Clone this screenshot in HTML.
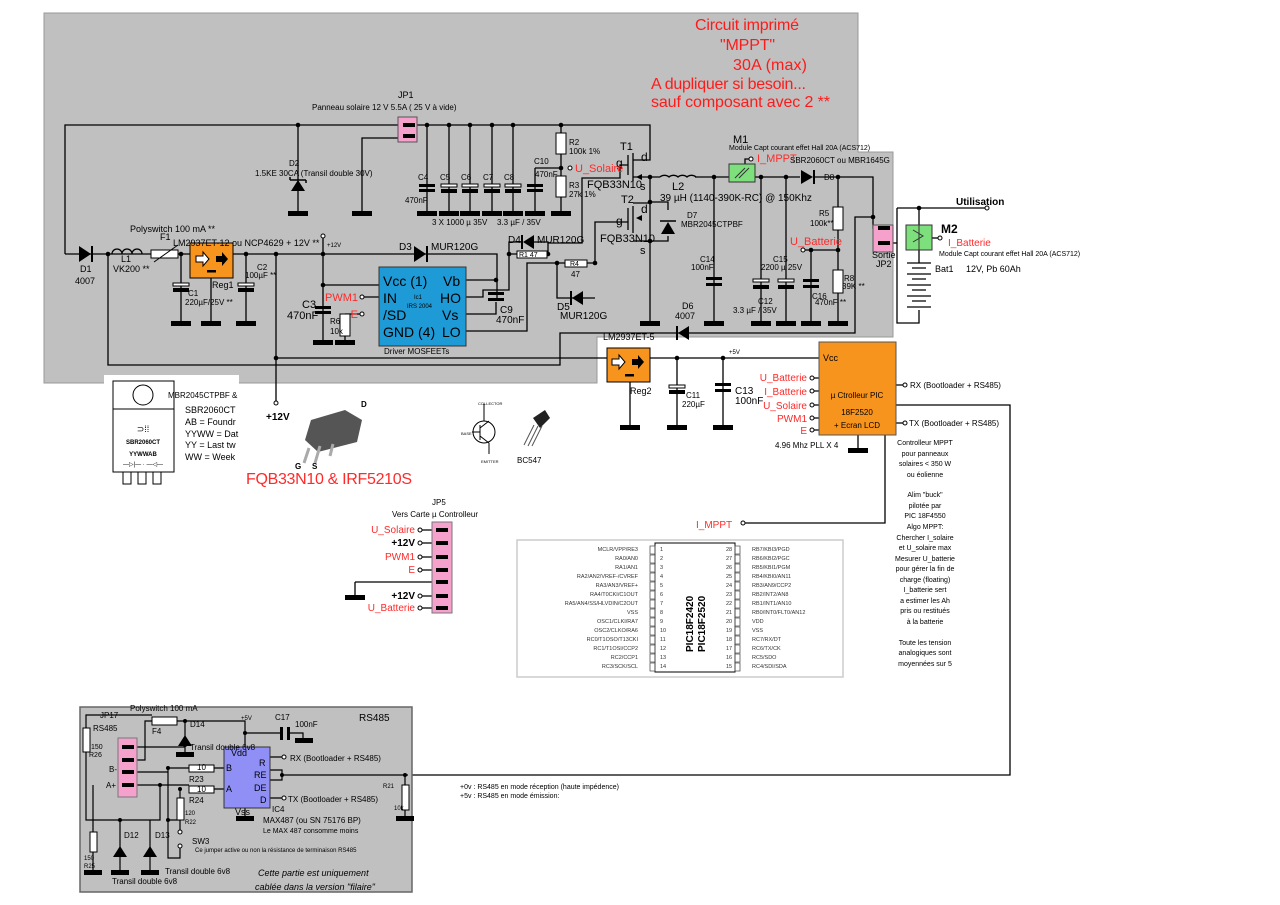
<!DOCTYPE html>
<html><head><meta charset="utf-8"><style>
html,body{margin:0;padding:0;background:#fff}
svg{display:block}
text{font-family:"Liberation Sans",sans-serif}
</style></head><body>
<svg width="1280" height="905" viewBox="0 0 1280 905" xmlns="http://www.w3.org/2000/svg">
<path d="M44,13 H858 V152 H893 V337 H597 V383 H44 Z" fill="#c0c0c0" stroke="#999" stroke-width="1"/>
<g fill="#ff1a1a" font-size="16">
<text x="695" y="30" textLength="104">Circuit imprimé</text>
<text x="720" y="50" textLength="55">"MPPT"</text>
<text x="733" y="70" textLength="74">30A (max)</text>
<text x="651" y="89" textLength="155">A dupliquer si besoin...</text>
<text x="651" y="107" textLength="179">sauf composant avec 2 **</text>
</g>
<g stroke="#000" stroke-width="1.3" fill="none">
<path d="M65,254 V125 H650 V160 H633"/>
<path d="M298,125 V213 M407,133 H417 M405,138 H362 V213"/>
<path d="M427,125 V213 M449,125 V213 M470,125 V213 M492,125 V213 M513,125 V213 M535,168 V213 M535,168 H561 M561,125 V213"/>
<path d="M65,254 H190 M233,254 H497 V298 M466,280 H497 M323,236 V342 M323,285 H379 M276,254 V403 M108,254 V365 H560 V333 H855 V217 H873"/>
<path d="M181,254 V323 M246,254 V323 M211,278 V323"/>
<path d="M345,314 H362 M345,314 V342 M466,297 H483 V290 H509 V254 H517 M547,254 H548 V243 H582 V178 H620 V165 H628 M466,314 H496 V302 M466,331 H527 V263 H565 M587,263 H595 V222 H628 M557,263 V298 H573 M583,298 H595 M509,254 V242 H522 M534,242 H548 V254"/>
<path d="M362,297 H379 M400,331 H390 V342"/>
<path d="M628,155 V175 M633,153 V181 M633,177 H650 V176 M650,177 V323 M633,203 H650 M628,208 V230 M633,206 V233 M633,241 H650 M650,202 H668 V210 M668,236 V241 H650"/>
<path d="M650,177 H660 M695,177 H729 M755,177 H800 M815,177 H873 V228 H893"/>
<path d="M714,177 V323 M761,177 V323 M786,177 V323 M838,177 V207 M838,230 V270 M838,293 V323 M803,250 H838 M811,250 V323"/>
<path d="M751,159 H745 V165"/>
<path d="M893,243 H897"/>
<path d="M897,208 H987 M897,208 V323 H919 V310 M919,208 V263"/>
<path d="M932,238 H940"/>
<path d="M276,358 H607 M650,358 H819 M677,358 V427 M723,358 V427 M630,382 V427 M858,435 V450 M896,385 H905 M896,423 H905 M896,405 H1010 V775 H408 M885,435 V523 H743"/>
<path d="M812,378 H819 M812,391 H819 M812,405 H819 M812,418 H819 M812,430 H819"/>
<path d="M420,530 H448 M420,543 H448 M420,557 H448 M420,570 H448 M355,582 H448 V582 M355,582 V597 M420,596 H448 M420,608 H448"/>
</g>
<g fill="#000">
<rect x="288" y="211" width="20" height="5"/><rect x="352" y="211" width="20" height="5"/>
<rect x="417" y="211" width="20" height="5"/><rect x="439" y="211" width="20" height="5"/><rect x="460" y="211" width="20" height="5"/><rect x="482" y="211" width="20" height="5"/><rect x="503" y="211" width="20" height="5"/><rect x="525" y="211" width="20" height="5"/><rect x="551" y="211" width="20" height="5"/>
<rect x="171" y="321" width="20" height="5"/><rect x="201" y="321" width="20" height="5"/><rect x="236" y="321" width="20" height="5"/>
<rect x="313" y="340" width="20" height="5"/><rect x="335" y="340" width="20" height="5"/><rect x="380" y="340" width="20" height="5"/>
<rect x="640" y="321" width="20" height="5"/><rect x="704" y="321" width="20" height="5"/><rect x="751" y="321" width="20" height="5"/><rect x="776" y="321" width="20" height="5"/><rect x="801" y="321" width="20" height="5"/><rect x="828" y="321" width="20" height="5"/>
<rect x="620" y="425" width="20" height="5"/><rect x="667" y="425" width="20" height="5"/><rect x="713" y="425" width="20" height="5"/><rect x="848" y="448" width="20" height="5"/>
<rect x="345" y="595" width="20" height="5"/>
<g>
<circle cx="298" cy="125" r="2.3"/><circle cx="427" cy="125" r="2.3"/><circle cx="449" cy="125" r="2.3"/><circle cx="470" cy="125" r="2.3"/><circle cx="492" cy="125" r="2.3"/><circle cx="513" cy="125" r="2.3"/><circle cx="561" cy="125" r="2.3"/><circle cx="561" cy="168" r="2.3"/>
<circle cx="108" cy="254" r="2.3"/><circle cx="181" cy="254" r="2.3"/><circle cx="246" cy="254" r="2.3"/><circle cx="276" cy="254" r="2.3"/><circle cx="323" cy="254" r="2.3"/><circle cx="323" cy="285" r="2.3"/><circle cx="276" cy="358" r="2.3"/><circle cx="496" cy="280" r="2.3"/><circle cx="509" cy="254" r="2.3"/><circle cx="548" cy="254" r="2.3"/><circle cx="557" cy="263" r="2.3"/><circle cx="595" cy="263" r="2.3"/>
<circle cx="650" cy="177" r="2.3"/><circle cx="650" cy="202" r="2.3"/><circle cx="650" cy="241" r="2.3"/><circle cx="714" cy="177" r="2.3"/><circle cx="761" cy="177" r="2.3"/><circle cx="786" cy="177" r="2.3"/><circle cx="838" cy="177" r="2.3"/><circle cx="838" cy="250" r="2.3"/><circle cx="811" cy="250" r="2.3"/><circle cx="873" cy="217" r="2.3"/><circle cx="919" cy="208" r="2.3"/>
<circle cx="677" cy="358" r="2.3"/><circle cx="723" cy="358" r="2.3"/>
</g>
</g>
<rect x="398" y="117" width="19" height="25" fill="#f6a0cc" stroke="#555"/>
<rect x="403" y="123" width="12" height="4"/><rect x="403" y="134" width="12" height="4"/>
<path d="M291,191 L305,191 L298,180 Z" fill="#000"/><path d="M290,180 H306 M306,180 v3 M290,180 v-3" stroke="#000" stroke-width="1.5" fill="none"/>
<g fill="#000">
<rect x="419" y="184" width="16" height="3"/><rect x="419" y="189" width="16" height="3"/>
<rect x="441" y="184" width="16" height="3" fill="#fff" stroke="#000"/><rect x="441" y="189" width="16" height="4"/>
<rect x="462" y="184" width="16" height="3" fill="#fff" stroke="#000"/><rect x="462" y="189" width="16" height="4"/>
<rect x="484" y="184" width="16" height="3" fill="#fff" stroke="#000"/><rect x="484" y="189" width="16" height="4"/>
<rect x="505" y="184" width="16" height="3" fill="#fff" stroke="#000"/><rect x="505" y="189" width="16" height="4"/>
<rect x="527" y="184" width="16" height="3"/><rect x="527" y="189" width="16" height="3"/>
<rect x="173" y="283" width="16" height="3" fill="#fff" stroke="#000"/><rect x="173" y="288" width="16" height="4"/>
<rect x="238" y="283" width="16" height="3" fill="#fff" stroke="#000"/><rect x="238" y="288" width="16" height="4"/>
<rect x="315" y="306" width="16" height="3"/><rect x="315" y="311" width="16" height="3"/>
<rect x="488" y="292" width="16" height="3"/><rect x="488" y="298" width="16" height="3"/>
<rect x="706" y="277" width="16" height="3"/><rect x="706" y="283" width="16" height="3"/>
<rect x="753" y="279" width="16" height="3" fill="#fff" stroke="#000"/><rect x="753" y="285" width="16" height="4"/>
<rect x="778" y="279" width="16" height="3" fill="#fff" stroke="#000"/><rect x="778" y="285" width="16" height="4"/>
<rect x="803" y="279" width="16" height="3"/><rect x="803" y="285" width="16" height="3"/>
<rect x="669" y="385" width="16" height="3" fill="#fff" stroke="#000"/><rect x="669" y="390" width="16" height="4"/>
<rect x="715" y="383" width="16" height="3"/><rect x="715" y="389" width="16" height="3"/>
</g>
<g fill="#fff" stroke="#000">
<rect x="556" y="133" width="10" height="21"/><rect x="556" y="176" width="10" height="21"/>
<rect x="151" y="250" width="27" height="8"/><rect x="340" y="314" width="10" height="22"/>
<rect x="517" y="251" width="30" height="7"/><rect x="565" y="260" width="22" height="7"/>
<rect x="833" y="207" width="10" height="23"/><rect x="833" y="270" width="10" height="23"/>
</g>
<path d="M154,262 L178,245" stroke="#000"/>
<path d="M112,254 a5,5 0 0 1 10,0 a5,5 0 0 1 10,0 a5,5 0 0 1 10,0" stroke="#000" stroke-width="1.3" fill="none"/>
<path d="M660,177 a6,5 0 0 1 9,0 a6,5 0 0 1 9,0 a6,5 0 0 1 9,0 a6,5 0 0 1 9,0" stroke="#000" stroke-width="1.3" fill="none"/>
<g fill="#000">
<path d="M79,246 L79,262 L91,254 Z"/><rect x="91" y="246" width="2" height="16"/>
<path d="M414,246 L414,262 L426,254 Z"/><rect x="426" y="246" width="2" height="16"/>
<path d="M534,235 L534,249 L523,242 Z"/><rect x="521" y="235" width="2" height="14"/>
<path d="M583,291 L583,305 L572,298 Z"/><rect x="570" y="291" width="2" height="14"/>
<path d="M689,326 L689,340 L678,333 Z"/><rect x="676" y="326" width="2" height="14"/>
<path d="M801,170 L801,184 L813,177 Z"/><rect x="813" y="170" width="2" height="14"/>
<path d="M661,234 L675,234 L668,222 Z"/><path d="M660,221 H676" stroke="#000" stroke-width="1.5"/>
</g>
<path d="M636,177 l6,-3 v6 Z M636,218 l6,-3 v6 Z"/>
<rect x="190" y="243" width="43" height="35" fill="#f7941d" stroke="#000"/>
<path d="M196,256 h7 v-4 l6,7 -6,7 v-4 h-7 Z" fill="#fff" stroke="#000"/><path d="M216,256 h6 v-4 l6,7 -6,7 v-4 h-6 Z" fill="#000"/>
<rect x="207" y="270" width="9" height="2.5" fill="#000"/>
<rect x="379" y="267" width="87" height="79" fill="#1e9bd7" stroke="#333"/>
<g font-size="14" fill="#000"><text x="383" y="286">Vcc (1)</text><text x="443" y="286">Vb</text><text x="383" y="303">IN</text><text x="440" y="303">HO</text><text x="383" y="320">/SD</text><text x="442" y="320">Vs</text><text x="383" y="337">GND (4)</text><text x="442" y="337">LO</text></g>
<text x="414" y="299" font-size="6">Ic1</text><text x="407" y="308" font-size="6">IRS 2004</text>
<rect x="729" y="164" width="26" height="18" fill="#7de07d" stroke="#333"/>
<path d="M735,178 l10,-10 M739,178 l10,-10" stroke="#333"/>
<rect x="873" y="225" width="20" height="27" fill="#f6a0cc" stroke="#555"/><rect x="878" y="226" width="12" height="4"/><rect x="878" y="241" width="12" height="4"/>
<rect x="906" y="225" width="26" height="25" fill="#7de07d" stroke="#333"/>
<path d="M913,230 l10,6 l-10,6 M919,225 V250" stroke="#333" fill="none"/>
<g stroke="#000" stroke-width="1.2"><path d="M907,263 h24 M912,268 h14 M907,274 h24 M912,279 h14 M907,285 h24 M912,290 h14 M907,296 h24 M912,301 h14 M907,307 h24"/></g>
<circle cx="987" cy="208" r="2" fill="#fff" stroke="#000"/><circle cx="940" cy="238" r="2" fill="#fff" stroke="#000"/>
<rect x="607" y="348" width="43" height="34" fill="#f7941d" stroke="#000"/>
<path d="M612,359 h7 v-4 l6,7 -6,7 v-4 h-7 Z" fill="#fff" stroke="#000"/><path d="M632,359 h6 v-4 l6,7 -6,7 v-4 h-6 Z" fill="#000"/><rect x="625" y="374" width="9" height="2.5"/>
<rect x="819" y="342" width="77" height="93" fill="#f7941d" stroke="#555"/>
<g fill="#fff" stroke="#000">
<circle cx="570" cy="168" r="2"/><circle cx="323" cy="236" r="2"/><circle cx="362" cy="297" r="2"/><circle cx="362" cy="314" r="2"/><circle cx="751" cy="159" r="2"/><circle cx="803" cy="250" r="2"/><circle cx="276" cy="403" r="2"/>
<circle cx="812" cy="378" r="2"/><circle cx="812" cy="391" r="2"/><circle cx="812" cy="405" r="2"/><circle cx="812" cy="418" r="2"/><circle cx="812" cy="430" r="2"/><circle cx="905" cy="385" r="2"/><circle cx="905" cy="423" r="2"/><circle cx="743" cy="523" r="2"/>
<circle cx="420" cy="530" r="2"/><circle cx="420" cy="543" r="2"/><circle cx="420" cy="557" r="2"/><circle cx="420" cy="570" r="2"/><circle cx="420" cy="596" r="2"/><circle cx="420" cy="608" r="2"/>
</g>
<g font-size="8" fill="#000">
<text x="398" y="98" font-size="9">JP1</text><text x="312" y="110">Panneau solaire 12 V 5.5A  ( 25 V à vide)</text>
<text x="289" y="166">D2</text><text x="255" y="176">1.5KE 30CA  (Transil double 30V)</text>
<text x="418" y="180">C4</text><text x="440" y="180">C5</text><text x="461" y="180">C6</text><text x="483" y="180">C7</text><text x="504" y="180">C8</text><text x="405" y="203">470nF</text>
<text x="432" y="225">3 X 1000 µ 35V</text><text x="497" y="225">3.3 µF / 35V</text>
<text x="534" y="164">C10</text><text x="535" y="177">470nF</text>
<text x="569" y="145">R2</text><text x="569" y="154">100k 1%</text><text x="569" y="188">R3</text><text x="569" y="197">27k    1%</text>
<text x="620" y="150" font-size="11">T1</text><text x="641" y="161" font-size="12">d</text><text x="616" y="167" font-size="12">g</text><text x="640" y="190" font-size="11">s</text>
<text x="587" y="188" font-size="11">FQB33N10</text>
<text x="621" y="203" font-size="11">T2</text><text x="641" y="213" font-size="12">d</text><text x="616" y="225" font-size="12">g</text><text x="640" y="254" font-size="11">s</text>
<text x="600" y="242" font-size="11">FQB33N10</text>
<text x="672" y="190" font-size="11">L2</text><text x="660" y="201" font-size="10">39 µH (1140-390K-RC) @ 150Khz</text>
<text x="687" y="218">D7</text><text x="681" y="227">MBR2045CTPBF</text>
<text x="733" y="143" font-size="11">M1</text><text x="729" y="150" font-size="7">Module Capt   courant effet Hall 20A (ACS712)</text>
<text x="790" y="163">SBR2060CT ou MBR1645G</text><text x="824" y="180">D8</text>
<text x="700" y="262">C14</text><text x="691" y="270">100nF</text>
<text x="773" y="262">C15</text><text x="761" y="270">2200 µ   25V</text>
<text x="758" y="304">C12</text><text x="733" y="313">3.3 µF / 35V</text>
<text x="812" y="299">C16</text><text x="815" y="305">470nF **</text>
<text x="819" y="216">R5</text><text x="810" y="226">100k**</text><text x="844" y="281">R8</text><text x="842" y="289">39K **</text>
<text x="872" y="258" font-size="9">Sortie</text><text x="876" y="267" font-size="9">JP2</text>
<text x="682" y="309" font-size="9">D6</text><text x="675" y="319" font-size="9">4007</text>
<text x="603" y="340" font-size="9">LM2937ET-5</text>
<text x="130" y="232" font-size="9">Polyswitch 100 mA **</text><text x="160" y="240" font-size="9">F1</text>
<text x="173" y="246" font-size="9">LM2937ET-12  ou NCP4629  + 12V **</text>
<text x="80" y="272" font-size="9">D1</text><text x="75" y="284" font-size="9">4007</text>
<text x="121" y="262" font-size="9">L1</text><text x="113" y="272" font-size="9">VK200 **</text>
<text x="212" y="288" font-size="9">Reg1</text><text x="188" y="296">C1</text><text x="185" y="305">220µF/25V **</text>
<text x="257" y="270">C2</text><text x="245" y="278">100µF **</text><text x="327" y="247" font-size="6">+12V</text>
<text x="302" y="308" font-size="11">C3</text><text x="287" y="319" font-size="11">470nF</text><text x="330" y="324">R6</text><text x="330" y="334">10k</text>
<text x="399" y="250" font-size="10">D3</text><text x="431" y="250" font-size="10">MUR120G</text>
<text x="508" y="243" font-size="10">D4</text><text x="537" y="243" font-size="10">MUR120G</text>
<text x="519" y="257" font-size="7">R1  47</text><text x="570" y="266" font-size="7">R4</text><text x="571" y="277">47</text>
<text x="557" y="310" font-size="10">D5</text><text x="560" y="319" font-size="10">MUR120G</text>
<text x="500" y="313" font-size="10">C9</text><text x="496" y="323" font-size="10">470nF</text>
<text x="384" y="354">Driver MOSFEETs</text>
<text x="956" y="205" font-size="10" font-weight="bold">Utilisation</text>
<text x="941" y="233" font-size="12" font-weight="bold">M2</text><text x="939" y="256" font-size="7">Module Capt  courant effet Hall 20A (ACS712)</text>
<text x="935" y="272" font-size="9">Bat1</text><text x="966" y="272" font-size="9">12V, Pb 60Ah</text>
<text x="630" y="394" font-size="9">Reg2</text><text x="729" y="354" font-size="6">+5V</text>
<text x="686" y="398">C11</text><text x="682" y="407">220µF</text><text x="735" y="394" font-size="10">C13</text><text x="735" y="404" font-size="10">100nF</text>
<text x="823" y="361" font-size="9">Vcc</text>
<text x="857" y="398" font-size="8" text-anchor="middle">µ Ctrolleur PIC</text><text x="857" y="415" text-anchor="middle">18F2520</text><text x="857" y="428" text-anchor="middle">+ Ecran LCD</text>
<text x="775" y="448">4.96 Mhz PLL X 4</text>
<text x="910" y="388">RX (Bootloader + RS485)</text><text x="909" y="426">TX (Bootloader + RS485)</text>
</g>
<g font-size="9" fill="#ff2a2a">
<text x="575" y="172" font-size="11">U_Solaire</text><text x="757" y="162" font-size="11">I_MPPT</text><text x="790" y="245" font-size="11">U_Batterie</text><text x="948" y="246" font-size="10">I_Batterie</text>
<text x="358" y="301" font-size="11" text-anchor="end">PWM1</text><text x="358" y="318" font-size="11" text-anchor="end">E</text>
<g font-size="10" text-anchor="end"><text x="807" y="381">U_Batterie</text><text x="807" y="395">I_Batterie</text><text x="807" y="409">U_Solaire</text><text x="807" y="422">PWM1</text><text x="807" y="434">E</text></g>
<text x="696" y="528" font-size="10">I_MPPT</text>
</g>
<g font-size="7" fill="#000" text-anchor="middle">
<text x="925" y="445">Controlleur MPPT</text><text x="925" y="456">pour panneaux</text><text x="925" y="466">solaires &lt; 350 W</text><text x="925" y="477">ou éolienne</text>
<text x="925" y="497">Alim "buck"</text><text x="925" y="508">pilotée par</text><text x="925" y="518">PIC 18F4550</text><text x="925" y="529">Algo MPPT:</text><text x="925" y="540">Chercher I_solaire</text><text x="925" y="550">et U_solaire max</text><text x="925" y="561">Mesurer U_batterie</text><text x="925" y="571">pour gérer la fin de</text><text x="925" y="582">charge (floating)</text><text x="925" y="592">I_batterie sert</text><text x="925" y="603">a estimer les Ah</text><text x="925" y="613">pris ou restitués</text><text x="925" y="624">à la batterie</text>
<text x="925" y="645">Toute les tension</text><text x="925" y="655">analogiques sont</text><text x="925" y="666">moyennées sur 5</text>
</g>
<rect x="104" y="375" width="135" height="110" fill="#fff"/>
<rect x="113" y="381" width="61" height="91" fill="#fff" stroke="#000"/><line x1="113" y1="409" x2="174" y2="409" stroke="#000"/>
<circle cx="143" cy="395" r="10" fill="none" stroke="#000"/>
<rect x="123" y="472" width="8" height="12" fill="none" stroke="#000"/><rect x="138" y="472" width="8" height="12" fill="none" stroke="#000"/><rect x="153" y="472" width="8" height="12" fill="none" stroke="#000"/>
<g font-size="6" font-weight="bold" text-anchor="middle"><text x="143" y="444">SBR2060CT</text><text x="143" y="456">YYWWAB</text><text x="143" y="432" font-size="9" font-weight="normal">⊃⁞⁞</text><text x="143" y="466" font-weight="normal">—▷|— · —◁—</text></g>
<g font-size="9"><text x="168" y="398" font-size="8">MBR2045CTPBF &amp;</text><text x="185" y="413">SBR2060CT</text><text x="185" y="425">AB = Foundr</text><text x="185" y="437">YYWW = Dat</text><text x="185" y="448">YY = Last tw</text><text x="185" y="460">WW = Week</text></g>
<text x="266" y="420" font-size="10" font-weight="bold">+12V</text>
<path d="M311,420 L345,410 L362,420 L357,442 L318,452 L305,440 Z" fill="#555"/>
<path d="M309,448 l-5,15 M320,446 l-5,17 M333,444 l-3,12" stroke="#aaa" stroke-width="3"/>
<text x="361" y="407" font-size="8" font-weight="bold">D</text><text x="295" y="469" font-size="8" font-weight="bold">G</text><text x="312" y="469" font-size="8" font-weight="bold">S</text>
<text x="246" y="484" font-size="16" fill="#ff2a2a" textLength="166">FQB33N10 &amp; IRF5210S</text>
<circle cx="484" cy="432" r="11" fill="none" stroke="#000"/><path d="M480,425 V440 M472,432 H480 M480,428 L489,421 M480,436 L489,443 M484,404 V421 M489,443 V454" stroke="#000" fill="none"/>
<text x="478" y="405" font-size="4">COLLECTOR</text><text x="461" y="435" font-size="4">BASE</text><text x="481" y="463" font-size="4">EMITTER</text>
<path d="M533,418 L545,410 L550,418 L540,428 Z" fill="#222"/><path d="M534,425 l-10,20 M538,426 l-10,20 M542,426 l-10,20" stroke="#555"/>
<text x="517" y="463" font-size="8">BC547</text>
<text x="432" y="505" font-size="8">JP5</text><text x="392" y="517" font-size="8">Vers Carte µ Controlleur</text>
<rect x="432" y="522" width="20" height="91" fill="#f6a0cc" stroke="#777"/>
<g fill="#000"><rect x="436" y="528" width="12" height="4"/><rect x="436" y="541" width="12" height="4"/><rect x="436" y="555" width="12" height="4"/><rect x="436" y="568" width="12" height="4"/><rect x="436" y="580" width="12" height="4"/><rect x="436" y="594" width="12" height="4"/><rect x="436" y="606" width="12" height="4"/></g>
<g font-size="10" text-anchor="end"><text x="415" y="533" fill="#ff2a2a">U_Solaire</text><text x="415" y="546" font-weight="bold">+12V</text><text x="415" y="560" fill="#ff2a2a">PWM1</text><text x="415" y="573" fill="#ff2a2a">E</text><text x="415" y="599" font-weight="bold">+12V</text><text x="415" y="611" fill="#ff2a2a">U_Batterie</text></g>
<rect x="517" y="540" width="326" height="137" fill="#fff" stroke="#ccc" stroke-width="1.5"/>
<rect x="655" y="543" width="80" height="129" fill="#fff" stroke="#000"/>
<g font-size="5.5" fill="#333">
<g text-anchor="end">
<text x="638" y="551">MCLR/VPP/RE3</text><text x="638" y="560">RA0/AN0</text><text x="638" y="569">RA1/AN1</text><text x="638" y="578">RA2/AN2/VREF-/CVREF</text><text x="638" y="587">RA3/AN3/VREF+</text><text x="638" y="596">RA4/T0CKI/C1OUT</text><text x="638" y="605">RA5/AN4/SS/HLVDIN/C2OUT</text><text x="638" y="614">VSS</text><text x="638" y="623">OSC1/CLKI/RA7</text><text x="638" y="632">OSC2/CLKO/RA6</text><text x="638" y="641">RC0/T1OSO/T13CKI</text><text x="638" y="650">RC1/T1OSI/CCP2</text><text x="638" y="659">RC2/CCP1</text><text x="638" y="668">RC3/SCK/SCL</text>
</g>
<text x="752" y="551">RB7/KBI3/PGD</text><text x="752" y="560">RB6/KBI2/PGC</text><text x="752" y="569">RB5/KBI1/PGM</text><text x="752" y="578">RB4/KBI0/AN11</text><text x="752" y="587">RB3/AN9/CCP2</text><text x="752" y="596">RB2/INT2/AN8</text><text x="752" y="605">RB1/INT1/AN10</text><text x="752" y="614">RB0/INT0/FLT0/AN12</text><text x="752" y="623">VDD</text><text x="752" y="632">VSS</text><text x="752" y="641">RC7/RX/DT</text><text x="752" y="650">RC6/TX/CK</text><text x="752" y="659">RC5/SDO</text><text x="752" y="668">RC4/SDI/SDA</text>
<g><text x="660" y="551">1</text><text x="660" y="560">2</text><text x="660" y="569">3</text><text x="660" y="578">4</text><text x="660" y="587">5</text><text x="660" y="596">6</text><text x="660" y="605">7</text><text x="660" y="614">8</text><text x="660" y="623">9</text><text x="660" y="632">10</text><text x="660" y="641">11</text><text x="660" y="650">12</text><text x="660" y="659">13</text><text x="660" y="668">14</text>
<text x="726" y="551">28</text><text x="726" y="560">27</text><text x="726" y="569">26</text><text x="726" y="578">25</text><text x="726" y="587">24</text><text x="726" y="596">23</text><text x="726" y="605">22</text><text x="726" y="614">21</text><text x="726" y="623">20</text><text x="726" y="632">19</text><text x="726" y="641">18</text><text x="726" y="650">17</text><text x="726" y="659">16</text><text x="726" y="668">15</text></g>
</g>
<g fill="none" stroke="#555" stroke-width="0.8">
<path d="M650,546 h5 v8 h-5 Z M650,555 h5 v8 h-5 Z M650,564 h5 v8 h-5 Z M650,573 h5 v8 h-5 Z M650,582 h5 v8 h-5 Z M650,591 h5 v8 h-5 Z M650,600 h5 v8 h-5 Z M650,609 h5 v8 h-5 Z M650,618 h5 v8 h-5 Z M650,627 h5 v8 h-5 Z M650,636 h5 v8 h-5 Z M650,645 h5 v8 h-5 Z M650,654 h5 v8 h-5 Z M650,663 h5 v8 h-5 Z"/>
<path d="M735,546 h5 v8 h-5 Z M735,555 h5 v8 h-5 Z M735,564 h5 v8 h-5 Z M735,573 h5 v8 h-5 Z M735,582 h5 v8 h-5 Z M735,591 h5 v8 h-5 Z M735,600 h5 v8 h-5 Z M735,609 h5 v8 h-5 Z M735,618 h5 v8 h-5 Z M735,627 h5 v8 h-5 Z M735,636 h5 v8 h-5 Z M735,645 h5 v8 h-5 Z M735,654 h5 v8 h-5 Z M735,663 h5 v8 h-5 Z"/>
</g>
<g font-size="10" font-weight="bold"><text transform="translate(693,652) rotate(-90)">PIC18F2420</text><text transform="translate(705,652) rotate(-90)">PIC18F2520</text></g>
<rect x="80" y="707" width="332" height="185" fill="#c0c0c0" stroke="#666" stroke-width="1.5"/>
<g stroke="#000" stroke-width="1.2" fill="none">
<path d="M86,728 V715 H152 M177,721 H245 V733 H280 M290,733 H303 V740 M245,733 V747 M185,721 V736 M185,745 V752 M137,747 H185 M137,760 H145 V721 H152 M137,772 H168 V768 H189 M214,768 H224 M137,785 H189 M214,789 H224 M86,752 V820 H160 V785 M168,768 V820 H180 M180,789 V798 M180,820 V830 M180,848 V858 H168 V820 M137,785 H160 M93,785 V832 M93,852 V872 M120,820 V872 M150,820 V872 M270,757 H282 M270,770 H282 V780 H270 M282,775 H408 M405,775 V785 M405,810 V818 M270,798 H282 M245,808 V818"/>
</g>
<rect x="118" y="738" width="19" height="59" fill="#f6a0cc" stroke="#777"/>
<g fill="#000"><rect x="122" y="745" width="12" height="4"/><rect x="122" y="758" width="12" height="4"/><rect x="122" y="770" width="12" height="4"/><rect x="122" y="783" width="12" height="4"/>
<rect x="176" y="752" width="18" height="5"/><rect x="295" y="738" width="18" height="5"/><rect x="236" y="816" width="18" height="5"/><rect x="396" y="816" width="18" height="5"/><rect x="84" y="870" width="18" height="5"/><rect x="111" y="870" width="18" height="5"/><rect x="141" y="870" width="18" height="5"/>
<path d="M178,746 L192,746 L185,735 Z M113,857 L127,857 L120,846 Z M143,857 L157,857 L150,846 Z"/>
<rect x="280" y="727" width="3" height="13"/><rect x="287" y="727" width="3" height="13"/>
<circle cx="185" cy="721" r="2"/><circle cx="245" cy="733" r="2"/><circle cx="185" cy="745" r="2"/><circle cx="168" cy="768" r="2"/><circle cx="160" cy="785" r="2"/><circle cx="180" cy="789" r="2"/><circle cx="168" cy="820" r="2"/><circle cx="120" cy="820" r="2"/><circle cx="282" cy="775" r="2"/><circle cx="405" cy="775" r="2"/></g>
<g fill="#fff" stroke="#000"><rect x="83" y="728" width="7" height="24"/><rect x="152" y="717" width="25" height="8"/><rect x="189" y="765" width="25" height="7"/><rect x="189" y="786" width="25" height="7"/><rect x="177" y="798" width="7" height="22"/><rect x="90" y="832" width="7" height="20"/><rect x="402" y="785" width="7" height="25"/>
<circle cx="180" cy="832" r="2"/><circle cx="180" cy="846" r="2"/><circle cx="284" cy="757" r="2"/><circle cx="284" cy="798" r="2"/></g>
<rect x="224" y="747" width="46" height="61" fill="#8f8ff5" stroke="#333"/>
<g font-size="9" fill="#000">
<text x="231" y="756">Vdd</text><text x="259" y="766">R</text><text x="254" y="778">RE</text><text x="254" y="791">DE</text><text x="260" y="803">D</text><text x="226" y="771">B</text><text x="226" y="792">A</text><text x="235" y="815">Vss</text>
<text x="272" y="812" font-size="8">IC4</text>
<text x="359" y="721" font-size="10">RS485</text>
<text x="100" y="718" font-size="8">JP17</text><text x="93" y="731" font-size="8">RS485</text><text x="109" y="772" font-size="8">B-</text><text x="106" y="788" font-size="8">A+</text>
<text x="91" y="749" font-size="7">150</text><text x="89" y="757" font-size="7">R26</text>
<text x="130" y="711" font-size="8">Polyswitch 100 mA</text><text x="152" y="734" font-size="8">F4</text><text x="190" y="727" font-size="8">D14</text><text x="190" y="750" font-size="8">Transil double 6v8</text>
<text x="241" y="720" font-size="6">+5V</text><text x="275" y="720" font-size="8">C17</text><text x="295" y="727" font-size="8">100nF</text>
<text x="197" y="770" font-size="8">10</text><text x="197" y="792" font-size="8">10</text><text x="189" y="782" font-size="8">R23</text><text x="189" y="803" font-size="8">R24</text>
<text x="290" y="761" font-size="8">RX (Bootloader + RS485)</text><text x="288" y="802" font-size="8">TX (Bootloader + RS485)</text>
<text x="383" y="788" font-size="6">R21</text><text x="394" y="810" font-size="6">10k</text>
<text x="263" y="823" font-size="8">MAX487 (ou SN 75176 BP)</text><text x="263" y="833" font-size="7">Le MAX 487 consomme moins</text>
<text x="185" y="815" font-size="6">120</text><text x="185" y="824" font-size="6">R22</text><text x="192" y="844" font-size="8">SW3</text><text x="195" y="852" font-size="6">Ce jumper active ou non la résistance de terminaison RS485</text>
<text x="124" y="838" font-size="8">D12</text><text x="155" y="838" font-size="8">D13</text><text x="84" y="860" font-size="6">150</text><text x="84" y="868" font-size="6">R25</text>
<text x="165" y="874" font-size="8">Transil double 6v8</text><text x="112" y="884" font-size="8">Transil double 6v8</text>
<text x="258" y="876" font-size="9" font-style="italic">Cette partie est uniquement</text><text x="255" y="890" font-size="9" font-style="italic">cablée dans la version "filaire"</text>
</g>
<text x="460" y="789" font-size="7">+0v : RS485 en mode réception (haute impédence)</text>
<text x="460" y="798" font-size="7">+5v : RS485 en mode émission:</text>
</svg>
</body></html>
